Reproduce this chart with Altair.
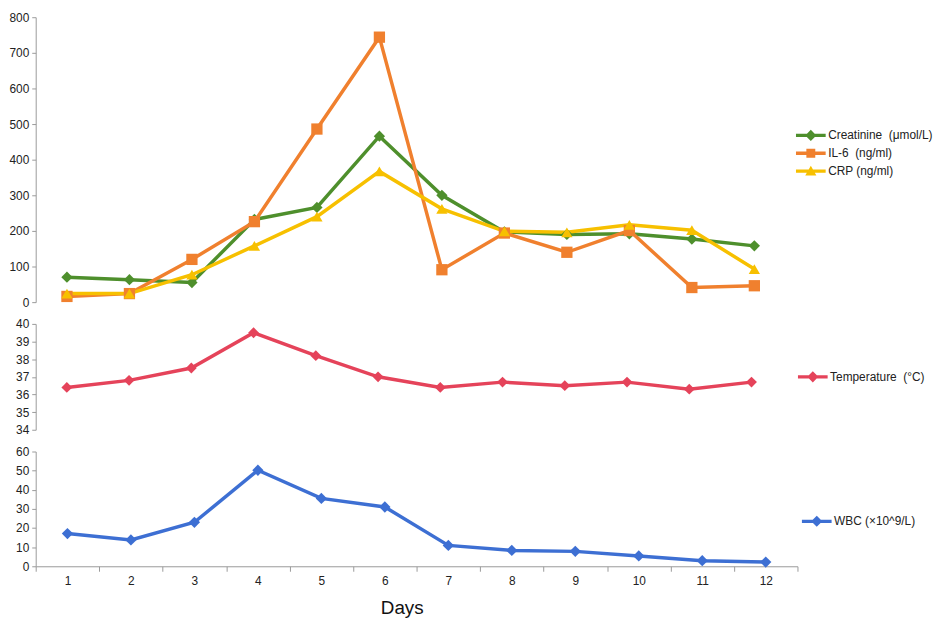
import altair as alt
import pandas as pd

# ---------------- data ----------------
days = list(range(1, 13))
creatinine = [70, 63, 55, 232, 266, 466, 300, 197, 190, 192, 177, 158]
il6 = [16, 24, 120, 226, 486, 744, 91, 194, 140, 201, 41, 46]
crp = [24, 24, 77, 158, 240, 367, 262, 199, 196, 217, 202, 93]
temperature = [36.4, 36.8, 37.5, 39.5, 38.2, 37.0, 36.4, 36.7, 36.5, 36.7, 36.3, 36.7]
wbc = [17.1, 13.8, 23.0, 50.2, 35.5, 31.0, 10.9, 8.3, 7.8, 5.4, 2.9, 2.2]

top_series = ["Creatinine\u00a0\u00a0(μmol/L)", "IL-6\u00a0\u00a0(ng/ml)", "CRP (ng/ml)"]
temp_series = ["Temperature\u00a0\u00a0(°C)"]
wbc_series = ["WBC (×10^9/L)"]

top_ticks = list(range(0, 801, 100))
temp_ticks = list(range(34, 41))
wbc_ticks = list(range(0, 61, 10))

# ---------------- styles ----------------
GREEN, ORANGE, YELLOW = "#4E8F2C", "#F0802E", "#F7C000"
RED, BLUE = "#E5435A", "#3D6FD3"
FONT = "Liberation Sans"
AXIS_GRAY = "#9a9a9a"

LINE = "M-2,-0.22L2,-0.22L2,0.22L-2,0.22Z"
DIAMOND = "M-0.75,0L0,-0.75L0.75,0L0,0.75Z"
SQUARE = "M-0.6,-0.6L0.6,-0.6L0.6,0.6L-0.6,0.6Z"
TRIANGLE = "M-0.75,0.6L0,-0.7L0.75,0.6Z"


def y_axis(ticks):
    return alt.Axis(values=ticks, title=None, grid=False, domainColor=AXIS_GRAY,
                    tickColor=AXIS_GRAY, tickSize=4, labelPadding=3,
                    labelFont=FONT, labelFontSize=12, labelColor="#222222")


def panel(values_by_series, series, colors, shapes, legend_paths, ticks, domain,
          width, height, legend_x, legend_y, marker_size, x_axis=None):
    rows = []
    for name, vals in zip(series, values_by_series):
        for d, v in zip(days, vals):
            rows.append({"Day": d, "value": v, "series": name})
    df = pd.DataFrame(rows)

    x = alt.X("Day:O", scale=alt.Scale(type="band", paddingInner=0, paddingOuter=0),
              axis=x_axis)
    y = alt.Y("value:Q", scale=alt.Scale(domain=domain, nice=False, zero=False),
              axis=y_axis(ticks))
    color_scale = alt.Scale(domain=series, range=colors)

    lines = alt.Chart(df).mark_line(strokeWidth=3.5).encode(
        x=x, y=y, color=alt.Color("series:N", scale=color_scale, legend=None))
    points = alt.Chart(df).mark_point(filled=True, opacity=1, size=marker_size).encode(
        x=x, y=y,
        color=alt.Color("series:N", scale=color_scale, legend=None),
        shape=alt.Shape("series:N", scale=alt.Scale(domain=series, range=shapes),
                        legend=None))
    leg = alt.Legend(title=None, orient="none", legendX=legend_x, legendY=legend_y,
                     symbolSize=225, symbolStrokeWidth=0, labelOffset=10,
                     rowPadding=4, padding=0, labelFont=FONT, labelFontSize=12,
                     labelColor="#222222", labelLimit=300)
    legend_layer = alt.Chart(df).transform_filter("false").mark_point(
        filled=True, opacity=1, size=225).encode(
        x=x, y=y,
        color=alt.Color("series:N", scale=color_scale, legend=leg),
        shape=alt.Shape("series:N", scale=alt.Scale(domain=series, range=legend_paths),
                        legend=leg))
    return alt.layer(lines, points, legend_layer).resolve_scale(
        color="independent", shape="independent").properties(width=width, height=height)


top = panel([creatinine, il6, crp], top_series, [GREEN, ORANGE, YELLOW],
            ["diamond", "square", "triangle-up"],
            [LINE + DIAMOND, LINE + SQUARE, LINE + TRIANGLE],
            top_ticks, [0, 800], 758, 288, 776, 112, 130)

temp = panel([temperature], temp_series, [RED], ["diamond"], [LINE + DIAMOND],
             temp_ticks, [34, 40], 755, 107, 778, 46, 120)

x_axis = alt.Axis(title="Days", labelAngle=0, tickBand="extent", grid=False,
                  domainColor=AXIS_GRAY, tickColor=AXIS_GRAY, tickSize=5,
                  labelPadding=4, labelFont=FONT, labelFontSize=12, labelColor="#222222",
                  titleFont=FONT, titleFontSize=19, titleFontWeight="normal",
                  titleColor="#111111", titlePadding=13, titleX=370)

wbc_chart = panel([wbc], wbc_series, [BLUE], ["diamond"], [LINE + DIAMOND],
                  wbc_ticks, [0, 60], 770, 116, 782, 63, 130, x_axis=x_axis)

chart = alt.vconcat(top, temp, wbc_chart, spacing=10).resolve_scale(
    color="independent", shape="independent").resolve_legend(
    color="independent", shape="independent").properties(
    padding=0, background="white").configure_view(stroke=None)

chart.save("out.html", embed_options={"renderer": "svg", "actions": False})
